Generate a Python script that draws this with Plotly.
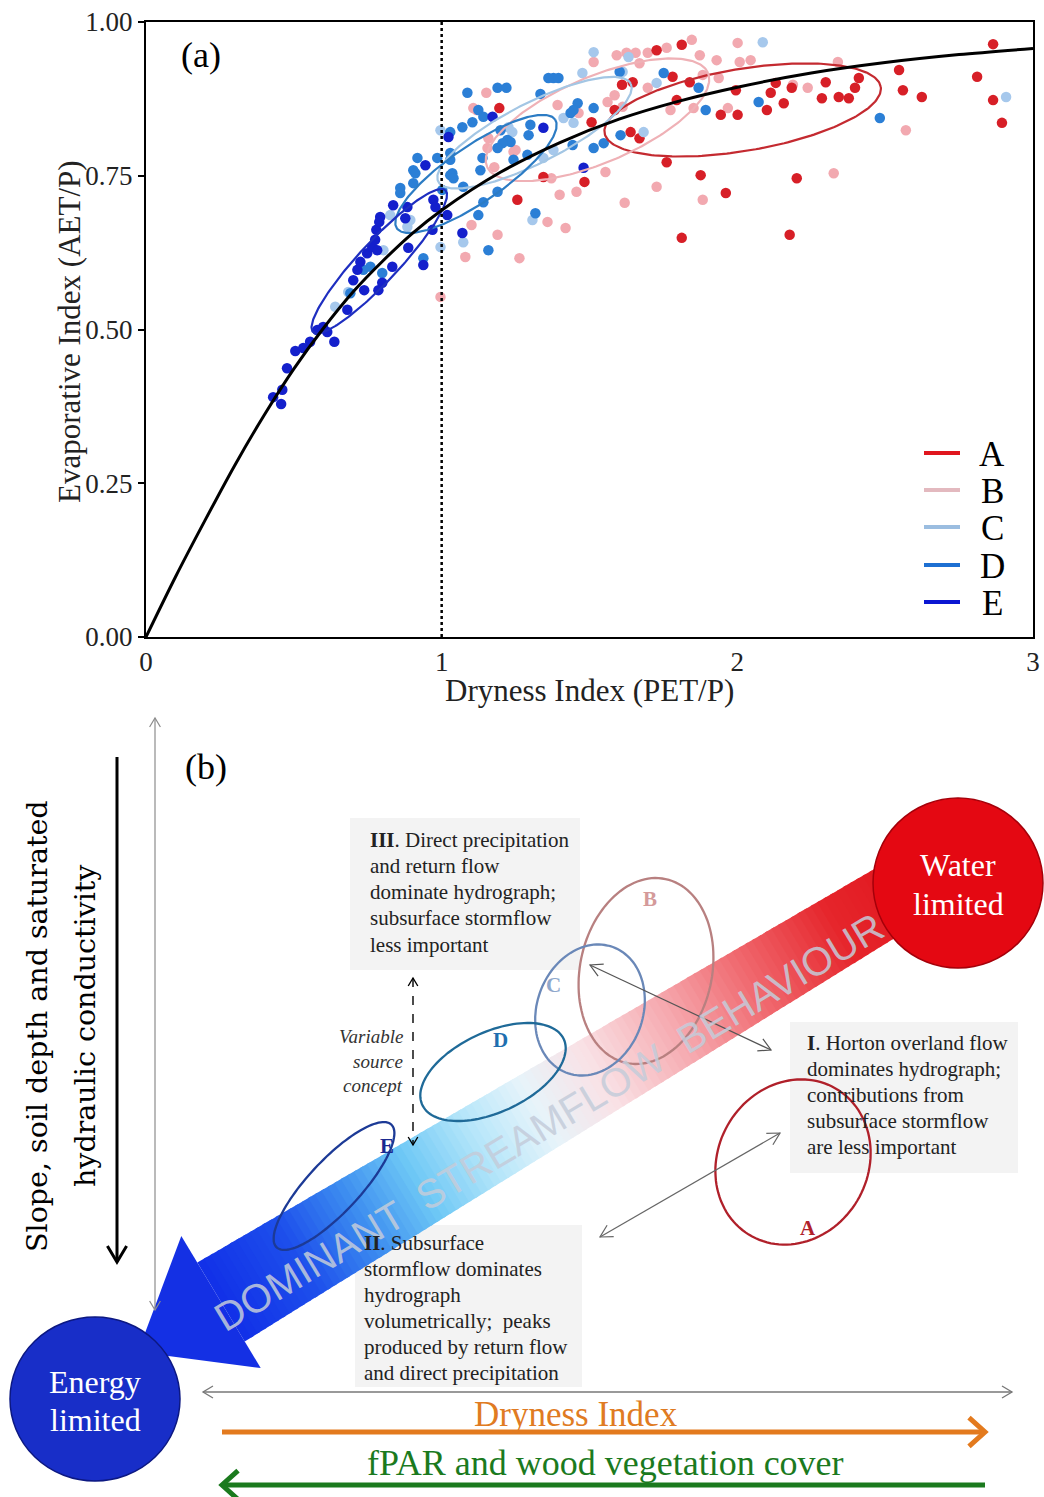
import numpy as np
import plotly.graph_objects as go

W, H = 1044, 1497
SERIF = "Liberation Serif"

# ---------------- panel (a): Budyko space ----------------
budyko_x = [0, 0.1, 0.2, 0.3, 0.4, 0.5, 0.6, 0.7, 0.8, 0.9, 1.0, 1.2, 1.4, 1.6,
            1.8, 2.0, 2.25, 2.5, 2.75, 3.0]
budyko_y = [0, 0.098, 0.190, 0.279, 0.361, 0.436, 0.502, 0.561, 0.611, 0.656,
            0.694, 0.756, 0.804, 0.842, 0.871, 0.894, 0.917, 0.934, 0.947, 0.957]

a_x = [2.865, 2.811, 2.865, 2.895, 2.547, 2.560, 2.624, 2.411, 2.398, 2.377, 2.343,
       2.299, 2.286, 2.184, 2.157, 2.130, 2.113, 2.100, 2.001, 1.944, 1.995, 1.839,
       1.781, 1.795, 1.727, 1.812, 1.646, 1.585, 1.507, 1.639, 1.669, 1.761, 1.876,
       1.961, 2.201, 2.177, 1.812, 1.483, 1.344, 1.256, 1.195, 1.610]
a_y = [0.964, 0.911, 0.873, 0.836, 0.922, 0.889, 0.878, 0.909, 0.893, 0.876, 0.878,
       0.902, 0.876, 0.893, 0.868, 0.901, 0.885, 0.857, 0.849, 0.849, 0.889, 0.902,
       0.911, 0.873, 0.954, 0.963, 0.902, 0.857, 0.837, 0.821, 0.811, 0.772, 0.751,
       0.722, 0.746, 0.654, 0.649, 0.740, 0.748, 0.711, 0.860, 0.898]

b_x = [1.846, 2.001, 1.697, 1.761, 1.592, 1.625, 1.656, 1.669, 1.514, 1.151, 1.118,
       1.392, 1.561, 1.585, 1.697, 1.774, 1.852, 1.873, 1.930, 2.008, 2.045, 1.937,
       1.883, 1.968, 2.238, 2.188, 2.340, 2.570, 2.326, 1.883, 1.727, 1.619, 1.554,
       1.456, 1.399, 1.358, 1.419, 1.189, 1.080, 1.263, 1.101, 1.178, 1.243, 1.371,
       1.107, 1.158, 1.155, 1.250, 1.463, 1.612, 0.996]
b_y = [0.971, 0.966, 0.950, 0.958, 0.946, 0.950, 0.950, 0.933, 0.935, 0.885, 0.857,
       0.865, 0.870, 0.881, 0.893, 0.857, 0.860, 0.946, 0.938, 0.935, 0.938, 0.909,
       0.914, 0.860, 0.893, 0.898, 0.935, 0.824, 0.754, 0.711, 0.732, 0.706, 0.756,
       0.724, 0.719, 0.675, 0.665, 0.654, 0.618, 0.616, 0.670, 0.764, 0.789, 0.746,
       0.860, 0.811, 0.795, 0.792, 0.852, 0.862, 0.553]

c_x = [2.909, 2.086, 1.514, 1.476, 1.727, 1.683, 1.632, 1.307, 1.073, 1.344, 1.378,
       1.226, 1.239, 1.612, 0.996, 0.996, 0.826, 0.894, 0.684, 0.803, 0.640, 0.884,
       1.446, 1.412]
c_y = [0.878, 0.967, 0.951, 0.917, 0.901, 0.821, 0.943, 0.678, 0.642, 0.779, 0.792,
       0.829, 0.821, 0.919, 0.824, 0.634, 0.686, 0.678, 0.561, 0.629, 0.537, 0.667,
       0.836, 0.844]

d_x = [0.918, 0.904, 0.911, 0.985, 0.860, 0.860, 0.904, 0.938, 0.759, 0.735, 0.691,
       0.799, 1.002, 1.036, 1.087, 1.189, 1.219, 1.334, 1.361, 1.378, 1.395, 1.124,
       1.141, 1.104, 1.070, 1.029, 1.199, 1.222, 1.233, 1.206, 1.189, 1.294, 1.300,
       1.243, 1.290, 1.138, 1.029, 1.029, 1.040, 1.073, 1.131, 1.141, 1.189, 1.124,
       1.158, 1.317, 1.460, 1.446, 1.436, 1.514, 1.514, 1.443, 1.548, 1.605, 1.029,
       1.751, 1.869, 1.893, 2.072, 1.602, 2.482]
d_y = [0.779, 0.759, 0.754, 0.779, 0.730, 0.722, 0.738, 0.616, 0.602, 0.597, 0.559,
       0.592, 0.727, 0.754, 0.885, 0.893, 0.893, 0.883, 0.909, 0.909, 0.909, 0.857,
       0.846, 0.837, 0.829, 0.821, 0.824, 0.808, 0.805, 0.803, 0.795, 0.816, 0.833,
       0.776, 0.784, 0.779, 0.776, 0.751, 0.746, 0.732, 0.759, 0.707, 0.724, 0.686,
       0.629, 0.689, 0.868, 0.857, 0.852, 0.860, 0.795, 0.800, 0.803, 0.816, 0.787,
       0.917, 0.893, 0.857, 0.870, 0.919, 0.844]

e_x = [0.430, 0.461, 0.457, 0.477, 0.505, 0.532, 0.555, 0.579, 0.599, 0.613, 0.637,
       0.681, 0.701, 0.715, 0.725, 0.738, 0.748, 0.765, 0.775, 0.779, 0.792, 0.789,
       0.786, 0.799, 0.833, 0.836, 0.877, 0.887, 0.938, 0.945, 0.972, 0.969, 1.019,
       0.884, 0.782, 1.172, 1.070, 1.344, 1.480, 0.979, 1.023]
e_y = [0.390, 0.402, 0.379, 0.437, 0.465, 0.470, 0.480, 0.499, 0.504, 0.496, 0.480,
       0.532, 0.580, 0.597, 0.610, 0.564, 0.624, 0.634, 0.646, 0.662, 0.683, 0.675,
       0.564, 0.576, 0.602, 0.702, 0.681, 0.633, 0.605, 0.767, 0.711, 0.662, 0.686,
       0.699, 0.629, 0.846, 0.657, 0.828, 0.763, 0.699, 0.813]

group_names = ["A", "B", "C", "D", "E"]
point_colors = {"A": "#d71f27", "B": "#f2a9b0", "C": "#a6c8ec", "D": "#2b7fd6", "E": "#1420cc"}
ellipse_colors = {"A": "#c42a30", "B": "#efb1b6", "C": "#a3c6e4", "D": "#2c7cc4", "E": "#1e2ec0"}
legend_colors = {"A": "#e0161e", "B": "#e3b9bf", "C": "#9bbde0", "D": "#1d6fd2", "E": "#0a16d2"}

# group ellipses: centre (data units), semi-axes (screen px) and tilt (deg)
ell_cx = [2.018, 1.527, 1.314, 1.116, 0.789]
ell_cy = [0.857, 0.841, 0.820, 0.753, 0.611]
ell_a = [140, 120, 108, 96, 97]
ell_b = [41, 43, 30, 28, 20]
ell_ang = [9.5, 23, 27, 34.5, 47]

x_ticks = [0, 1, 2, 3]
y_ticks = [0, 0.25, 0.5, 0.75, 1.0]
y_ticktext = ["0.00", "0.25", "0.50", "0.75", "1.00"]

# plot-area geometry of panel (a) in page pixels
AX_L, AX_R, AX_T, AX_B = 146, 1033, 22, 637
PX_X = (AX_R - AX_L) / 3.0
PX_Y = (AX_B - AX_T) / 1.0


def px(x):
    return x / W


def py(y):
    return 1 - y / H


def label(text, x, y, size, color="black", family=SERIF, **kw):
    d = dict(text=text, x=px(x), y=py(y), xref="paper", yref="paper", showarrow=False,
             xanchor="center", yanchor="middle", font=dict(family=family, size=size, color=color))
    d.update(kw)
    return d


fig = go.Figure()

series = {"A": (a_x, a_y), "B": (b_x, b_y), "C": (c_x, c_y), "D": (d_x, d_y), "E": (e_x, e_y)}
for g in ["B", "A", "C", "D", "E"]:
    xs, ys = series[g]
    fig.add_trace(go.Scatter(x=xs, y=ys, mode="markers", name=g, showlegend=False,
                             marker=dict(size=10.5, color=point_colors[g], line=dict(width=0))))

tt = np.linspace(0, 2 * np.pi, 240)
for i, g in enumerate(group_names):
    th = np.radians(ell_ang[i])
    dx = ell_a[i] * np.cos(tt) * np.cos(th) - ell_b[i] * np.sin(tt) * np.sin(th)
    dy = ell_a[i] * np.cos(tt) * np.sin(th) + ell_b[i] * np.sin(tt) * np.cos(th)
    fig.add_trace(go.Scatter(x=ell_cx[i] + dx / PX_X, y=ell_cy[i] + dy / PX_Y, mode="lines",
                             showlegend=False, hoverinfo="skip",
                             line=dict(color=ellipse_colors[g], width=2.2)))

fig.add_trace(go.Scatter(x=[1, 1], y=[0, 1], mode="lines", showlegend=False,
                         line=dict(color="black", width=2.5, dash="dot")))
fig.add_trace(go.Scatter(x=budyko_x, y=budyko_y, mode="lines", showlegend=False,
                         line=dict(color="black", width=3, shape="spline", smoothing=0.8)))

# invisible marker anchoring the schematic axes of panel (b)
fig.add_trace(go.Scatter(x=[0], y=[700], mode="markers", xaxis="x2", yaxis="y2",
                         marker=dict(size=1, opacity=0), showlegend=False, hoverinfo="skip"))

shapes = []
annotations = []

# legend of panel (a)
leg_rows = [453, 490, 527, 565, 602]
for g, yy in zip(group_names, leg_rows):
    shapes.append(dict(type="line", xref="paper", yref="paper", x0=px(924), x1=px(960),
                       y0=py(yy), y1=py(yy), line=dict(color=legend_colors[g], width=4)))
    annotations.append(label(g, 992, yy + 1, 35))

annotations += [
    label("(a)", 201, 55, 36),
    label("Dryness Index (PET/P)", 589, 690, 31, "#222"),
    label("Evaporative Index (AET/P)", 70, 332, 31, "#222", textangle=-90),
]

# ---------------- panel (b): conceptual diagram ----------------
def xy(x, y):
    return dict(xref="x2", yref="y2", x=x, y=y, xanchor="center", yanchor="middle")


def poly_path(pts):
    return "M" + " L".join(f"{p[0]:.1f},{p[1]:.1f}" for p in pts) + " Z"


def ellipse_path(cx, cy, a, b, ang, n=120):
    t = np.linspace(0, 2 * np.pi, n)
    th = np.radians(ang)
    xs = cx + a * np.cos(t) * np.cos(th) - b * np.sin(t) * np.sin(th)
    ys = cy - (a * np.cos(t) * np.sin(th) + b * np.sin(t) * np.cos(th))
    return poly_path(list(zip(xs, ys)))


def arrow(x0, y0, x1, y1, color, width, head=12, spread=0.6, both=False, dash=None):
    shapes.append(dict(type="line", xref="x2", yref="y2", x0=x0, y0=y0, x1=x1, y1=y1,
                       line=dict(color=color, width=width, dash=dash)))
    ends = [((x1, y1), (x0, y0))]
    if both:
        ends.append(((x0, y0), (x1, y1)))
    for tip, tail in ends:
        d = np.array(tip, float) - np.array(tail, float)
        d /= np.linalg.norm(d)
        nv = np.array([-d[1], d[0]])
        base = np.array(tip) - head * d
        w1 = base + head * spread * nv
        w2 = base - head * spread * nv
        shapes.append(dict(type="path", xref="x2", yref="y2",
                           path=f"M{w1[0]:.1f},{w1[1]:.1f} L{tip[0]:.1f},{tip[1]:.1f} L{w2[0]:.1f},{w2[1]:.1f}",
                           line=dict(color=color, width=width)))


# grey text boxes
for x0, y0, x1, y1 in [(350, 818, 580, 970), (790, 1022, 1018, 1173), (355, 1225, 582, 1387)]:
    shapes.append(dict(type="rect", xref="x2", yref="y2", x0=x0, y0=y0, x1=x1, y1=y1,
                       fillcolor="#f3f3f3", line=dict(width=0), layer="below"))

# gradient band from water-limited to energy-limited
ang = np.radians(31)
u = np.array([np.cos(ang), -np.sin(ang)])
nrm = np.array([np.sin(ang), np.cos(ang)])
start = np.array([221.0, 1302.0])
band_len = 830
stop_x = [221, 300, 360, 420, 480, 540, 600, 680, 760, 840, 940]
stop_rgb = [(18, 48, 232), (30, 80, 236), (60, 140, 240), (110, 200, 246), (180, 230, 250),
            (232, 244, 250), (250, 226, 230), (246, 168, 174), (240, 100, 106), (230, 38, 44),
            (224, 18, 26)]
nseg = 110
for i in range(nseg):
    s0 = band_len * i / nseg
    s1 = band_len * (i + 1.4) / nseg
    w0 = 46 - 12 * s0 / band_len
    w1 = 46 - 12 * s1 / band_len
    p0 = start + s0 * u
    p1 = start + s1 * u
    xm = (p0[0] + p1[0]) / 2
    rgb = [int(np.interp(xm, stop_x, [c[k] for c in stop_rgb])) for k in range(3)]
    pts = [p0 - w0 * nrm, p1 - w1 * nrm, p1 + w1 * nrm, p0 + w0 * nrm]
    shapes.append(dict(type="path", xref="x2", yref="y2", path=poly_path(pts),
                       fillcolor=f"rgb({rgb[0]},{rgb[1]},{rgb[2]})", line=dict(width=0)))
tip = start - 97 * u
head_pts = [start + 77 * nrm, tip, start - 77 * nrm]
shapes.append(dict(type="path", xref="x2", yref="y2", path=poly_path(head_pts),
                   fillcolor="rgb(20,48,228)", line=dict(width=0)))

# end-member circles
shapes.append(dict(type="circle", xref="x2", yref="y2", x0=873, x1=1043, y0=798, y1=968,
                   fillcolor="rgb(228,8,18)", line=dict(color="rgb(165,0,10)", width=1.5)))
shapes.append(dict(type="circle", xref="x2", yref="y2", x0=10, x1=180, y0=1317, y1=1481,
                   fillcolor="rgb(24,46,200)", line=dict(color="rgb(12,24,130)", width=1.5)))

# conceptual group ellipses
concept = [
    ("A", 793, 1162, 85, 75, 60, "#b0202a", "#b0202a", 808, 1228),
    ("B", 646, 971, 94, 66, 78, "#b88080", "#d49a9a", 650, 899),
    ("C", 590, 1010, 67, 53, 70, "#6a88b8", "#8fa8cc", 553, 985),
    ("D", 493, 1072, 78, 40, 25, "#1f6a98", "#1f6fb0", 500, 1040),
    ("E", 334, 1186, 84, 26, 47, "#1c3a96", "#1a2a90", 387, 1146),
]
for g, cx, cy, ea, eb, eang, lc, tc, lx, ly in concept:
    shapes.append(dict(type="path", xref="x2", yref="y2", path=ellipse_path(cx, cy, ea, eb, eang),
                       line=dict(color=lc, width=2.3)))
    annotations.append(dict(text=f"<b>{g}</b>", showarrow=False,
                            font=dict(family=SERIF, size=21, color=tc), **xy(lx, ly)))

# arrows
arrow(117, 757, 117, 1262, "black", 3, head=16, spread=0.6)
arrow(155, 718, 155, 1310, "#8c8c8c", 1.2, head=9, spread=0.6, both=True)
arrow(413, 978, 413, 1145, "black", 1.4, head=8, spread=0.6, both=True, dash="dash")
arrow(590, 965, 771, 1050, "#555555", 1.2, head=12, spread=0.55, both=True)
arrow(600, 1237, 780, 1133, "#666666", 1.2, head=12, spread=0.55, both=True)
arrow(203, 1392, 1012, 1392, "#777777", 1.3, head=10, spread=0.6, both=True)
arrow(222, 1432, 985, 1432, "#e37a1e", 5, head=16, spread=0.9)
arrow(985, 1485, 222, 1485, "#1b7a1e", 5, head=16, spread=0.9)

# text of panel (b)
annotations += [
    dict(text="(b)", showarrow=False, font=dict(family=SERIF, size=36, color="black"), **xy(206, 767)),
    dict(text="Slope, soil depth and saturated", textangle=-90, showarrow=False,
         font=dict(family="DejaVu Serif", size=28.5, color="black"), **xy(37, 1026)),
    dict(text="hydraulic conductivity", textangle=-90, showarrow=False,
         font=dict(family="DejaVu Serif", size=28.5, color="black"), **xy(85, 1026)),
    dict(text="Water", showarrow=False, font=dict(family=SERIF, size=32, color="white"), **xy(958, 865)),
    dict(text="limited", showarrow=False, font=dict(family=SERIF, size=32, color="white"), **xy(958, 904)),
    dict(text="Energy", showarrow=False, font=dict(family=SERIF, size=32, color="white"), **xy(95, 1382)),
    dict(text="limited", showarrow=False, font=dict(family=SERIF, size=32, color="white"), **xy(95, 1420)),
    dict(text="DOMINANT  STREAMFLOW  BEHAVIOUR", textangle=-31, showarrow=False,
         font=dict(family="Liberation Sans", size=40, color="rgba(196,204,218,0.85)"), **xy(549, 1122)),
    dict(text="Dryness Index", showarrow=False,
         font=dict(family=SERIF, size=35, color="#e07b22"), **xy(576, 1414)),
    dict(text="fPAR and wood vegetation cover", showarrow=False,
         font=dict(family=SERIF, size=36, color="#1b7a1e"), **xy(605, 1463)),
]

box_texts = [
    (368, [840, 866, 892, 918, 945],
     ["<b>III</b>. Direct precipitation", "and return flow", "dominate hydrograph;",
      "subsurface stormflow", "less important"]),
    (805, [1043, 1069, 1095, 1121, 1147],
     ["<b>I</b>. Horton overland flow", "dominates hydrograph;", "contributions from",
      "subsurface stormflow", "are less important"]),
    (362, [1243, 1269, 1295, 1321, 1347, 1373],
     ["<b>II</b>. Subsurface", "stormflow dominates", "hydrograph", "volumetrically;  peaks",
      "produced by return flow", "and direct precipitation"]),
]
for x0, ys, lines in box_texts:
    for yy, txt in zip(ys, lines):
        d = dict(text=txt, showarrow=False, font=dict(family=SERIF, size=21, color="#222"), **xy(x0, yy))
        d["xanchor"] = "left"
        annotations.append(d)

for yy, txt in zip([1036, 1061, 1085], ["Variable", "source", "concept"]):
    d = dict(text=f"<i>{txt}</i>", showarrow=False,
             font=dict(family=SERIF, size=19, color="#333"), **xy(405, yy))
    d["xanchor"] = "right"
    annotations.append(d)

fig.update_layout(
    width=W, height=H, autosize=False,
    margin=dict(l=0, r=0, t=0, b=0, pad=0),
    paper_bgcolor="white", plot_bgcolor="white",
    showlegend=False,
    xaxis=dict(domain=[px(AX_L), px(AX_R)], range=[0, 3], tickvals=x_ticks,
               ticktext=[str(v) for v in x_ticks], ticks="", showgrid=False, zeroline=False,
               showline=True, linecolor="black", linewidth=2, mirror=True,
               tickfont=dict(family=SERIF, size=27, color="#222"), automargin=False),
    yaxis=dict(domain=[py(AX_B), py(AX_T)], range=[0, 1], tickvals=y_ticks, ticktext=y_ticktext,
               ticks="outside", ticklen=6, tickwidth=1.5, tickcolor="black", showgrid=False,
               zeroline=False, showline=True, linecolor="black", linewidth=2, mirror=True,
               tickfont=dict(family=SERIF, size=27, color="#222"), automargin=False),
    xaxis2=dict(domain=[0, 1], range=[0, W], visible=False, anchor="y2", fixedrange=True),
    yaxis2=dict(domain=[0, py(700)], range=[H, 700], visible=False, anchor="x2", fixedrange=True),
    shapes=shapes,
    annotations=annotations,
)

fig.write_html("out.html")
